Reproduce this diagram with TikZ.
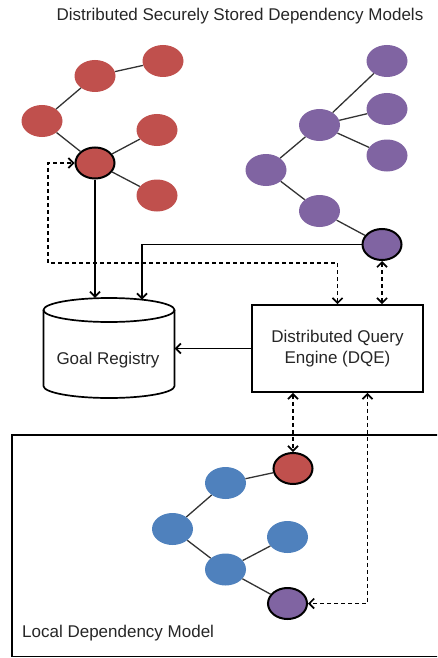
\documentclass[tikz,border=0pt]{standalone}
\usepackage{fontspec}
\setmainfont{Liberation Sans}
\usetikzlibrary{arrows.meta,shapes.geometric}
\definecolor{mred}{HTML}{C0504D}
\definecolor{mpurple}{HTML}{8064A2}
\definecolor{mblue}{HTML}{4F81BD}
\definecolor{txt}{HTML}{262626}
\begin{document}
\begin{tikzpicture}[x=1pt,y=-1pt,
  dot/.style={ellipse, minimum width=41pt, minimum height=32pt, inner sep=0pt},
  keydot/.style={dot, draw=black, line width=2pt, minimum width=39pt, minimum height=31pt},
  link/.style={draw=black!80, line width=1.3pt},
  tipA/.tip={Straight Barb[length=5pt,width=10pt]},
  flow/.style={draw=black, line width=1.7pt, -tipA},
  dflow/.style={draw=black, line width=1.7pt, dash pattern=on 4pt off 3pt, tipA-tipA},
  lbl/.style={font=\fontsize{17}{21}\selectfont, text=txt, inner sep=0pt}
]
\useasboundingbox (0,0) rectangle (437,658);
\clip (0,0) rectangle (437,658);

% title
\node[lbl, anchor=base] (title) at (240,21) {Distributed Securely Stored Dependency Models};

% red model
\node[dot,fill=mred] (r1) at (95,76) {};
\node[dot,fill=mred] (r2) at (163,61) {};
\node[dot,fill=mred] (r3) at (42,121) {};
\node[keydot,fill=mred] (r4) at (95,163) {};
\node[dot,fill=mred] (r5) at (157,130) {};
\node[dot,fill=mred] (r6) at (157,195.5) {};
\draw[link] (r3) -- (r1);
\draw[link] (r1) -- (r2);
\draw[link] (r3) -- (r4);
\draw[link] (r4) -- (r5);
\draw[link] (r4) -- (r6);

% purple model
\node[dot,fill=mpurple] (p1) at (387,61) {};
\node[dot,fill=mpurple] (p2) at (387,109) {};
\node[dot,fill=mpurple] (p3) at (319.5,125) {};
\node[dot,fill=mpurple] (p4) at (387,155.5) {};
\node[dot,fill=mpurple] (p5) at (266,170) {};
\node[dot,fill=mpurple] (p6) at (319.5,211) {};
\node[keydot,fill=mpurple] (p7) at (382,244.5) {};
\draw[link] (p3) -- (p1);
\draw[link] (p3) -- (p2);
\draw[link] (p3) -- (p4);
\draw[link] (p3) -- (p5);
\draw[link] (p5) -- (p6);
\draw[link] (p6) -- (p7);

% goal registry cylinder
\draw[line width=1.7pt, fill=white] (43.5,310) -- (43.5,386)
  arc[start angle=180, end angle=0, x radius=65.5, y radius=12] -- (174.5,310);
\draw[line width=1.7pt] (109,310) ellipse [x radius=65.5, y radius=12];
\node[minimum width=131pt, minimum height=100pt, inner sep=0pt] (cyl) at (109,348) {};
\node[lbl, anchor=base] (goaltxt) at (108,364) {Goal Registry};
\coordinate (cylr) at (142,299.5);

% DQE
\node[lbl, draw=black, line width=1.7pt, minimum width=171pt, minimum height=87pt, align=center] (dqe) at (337.5,348.5) {Distributed Query\\Engine (DQE)};

% local model
\draw[line width=1.7pt] (11.7,435) rectangle (445,656.5);
\node[lbl, anchor=base west] (localtxt) at (22,637) {Local Dependency Model};
\node[keydot,fill=mred] (lr) at (293,468.5) {};
\node[dot,fill=mblue] (b1) at (225.5,483) {};
\node[dot,fill=mblue] (b2) at (172.5,529) {};
\node[dot,fill=mblue] (b3) at (287.5,537) {};
\node[dot,fill=mblue] (b4) at (225.5,569.5) {};
\node[keydot,fill=mpurple] (lp) at (287.5,603.5) {};
\draw[link] (b1) -- (lr);
\draw[link] (b1) -- (b2);
\draw[link] (b2) -- (b4);
\draw[link] (b4) -- (b3);
\draw[link] (b4) -- (lp);

% connectors
\draw[flow] (r4.south) -- (r4.south |- cyl.north);
\draw[flow] (p7.west) -| (cylr);
\draw[flow] (dqe.west) -- (dqe.west -| cyl.east);
\coordinate (c1) at (48,263);
\draw[dflow] (dqe.north) |- (c1) |- (r4.west);
\draw[dflow] (p7.south) -- (p7.south |- dqe.north);
\draw[dflow] (dqe.south -| lr) -- (lr.north);
\coordinate (c2) at (367.5,603.5);
\draw[dflow] (dqe.south -| c2) |- (lp.east);
\end{tikzpicture}
\end{document}
